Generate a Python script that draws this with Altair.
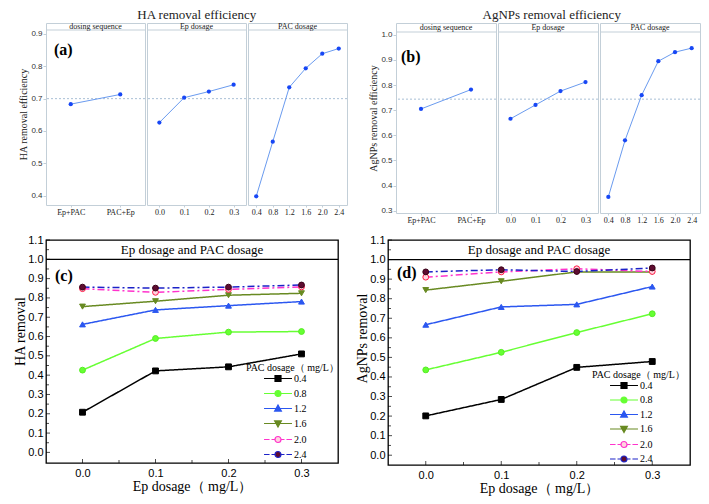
import altair as alt
import pandas as pd

SERIF = "Liberation Serif"
SANS = "Liberation Sans"

# ---------------- data: main-effects plots (top row) ----------------
seq_levels = ["Ep+PAC", "PAC+Ep"]
ep_levels = ["0.0", "0.1", "0.2", "0.3"]
pac_levels = ["0.4", "0.8", "1.2", "1.6", "2.0", "2.4"]

ha_seq = [0.683, 0.713]
ha_ep = [0.626, 0.703, 0.722, 0.743]
ha_pac = [0.398, 0.567, 0.735, 0.794, 0.839, 0.855]
ha_mean = [0.700]

ag_seq = [0.705, 0.782]
ag_ep = [0.666, 0.721, 0.776, 0.812]
ag_pac = [0.355, 0.580, 0.760, 0.895, 0.931, 0.947]
ag_mean = [0.744]

ha_ticks = [0.4, 0.5, 0.6, 0.7, 0.8, 0.9]
ag_ticks = [0.3, 0.4, 0.5, 0.6, 0.7, 0.8, 0.9, 1.0]

# ---------------- data: interaction plots (bottom row) ----------------
ep_dose = [0.0, 0.1, 0.2, 0.3]
pac_series = ["0.4", "0.8", "1.2", "1.6", "2.0", "2.4"]

ha_pac04 = [0.208, 0.422, 0.443, 0.510]
ha_pac08 = [0.426, 0.590, 0.623, 0.626]
ha_pac12 = [0.663, 0.738, 0.760, 0.781]
ha_pac16 = [0.755, 0.783, 0.814, 0.824]
ha_pac20 = [0.848, 0.829, 0.844, 0.857]
ha_pac24 = [0.856, 0.851, 0.856, 0.867]

ag_pac04 = [0.201, 0.285, 0.449, 0.479]
ag_pac08 = [0.436, 0.526, 0.627, 0.723]
ag_pac12 = [0.667, 0.758, 0.771, 0.862]
ag_pac16 = [0.844, 0.889, 0.937, 0.937]
ag_pac20 = [0.910, 0.937, 0.953, 0.939]
ag_pac24 = [0.937, 0.948, 0.939, 0.957]

y_major = [0.0, 0.1, 0.2, 0.3, 0.4, 0.5, 0.6, 0.7, 0.8, 0.9, 1.0, 1.1]
y_minor = [0.05, 0.15, 0.25, 0.35, 0.45, 0.55, 0.65, 0.75, 0.85, 0.95, 1.05]
x_major = [0.0, 0.1, 0.2, 0.3]
x_minor = [0.05, 0.15, 0.25]
strip_line = [1.0]

# ---------------- styles ----------------
FRAME = "#c3cfd8"
REF = "#a9bfd6"
LINE = "#6a9bef"
PT = "#1747f5"
TXT = "#222222"

LINE_COLORS = ["#000000", "#66ff33", "#2b57f0", "#688a22", "#ff33cc", "#1c22c8"]
FILLS = ["#000000", "#66ff33", "#2b57f0", "#688a22", "#ffd3de", "#5e0c30"]
STROKES = ["#000000", "#55ee22", "#2b57f0", "#688a22", "#ff1744", "#3a0018"]
DASHES = [[1, 0], [1, 0], [1, 0], [1, 0], [7, 3, 2, 3], [7, 3, 2, 3]]
SHAPES = ["square", "circle", "triangle-up", "triangle-down", "circle", "circle"]

# legend glyphs (line + marker), in symbol units
LA, LB, LM, LH = 1.62, 5.92, 3.77, 0.46


def f(v):
    return f"{v:.3f}"


SOLID = f"M{f(LA)},0H{f(LB)}"
DASHDOT = (f"M{f(LA)},0H{f(LA + 0.85)}M{f(LA + 1.15)},0H{f(LM - LH)}"
           f"M{f(LM + LH)},0H{f(LB - 1.15)}M{f(LB - 0.85)},0H{f(LB)}")
SQ = f"M{f(LM - LH)},{f(-LH)}H{f(LM + LH)}V{f(LH)}H{f(LM - LH)}Z"
CIR = (f"M{f(LM - LH)},0A{f(LH)},{f(LH)},0,1,0,{f(LM + LH)},0"
       f"A{f(LH)},{f(LH)},0,1,0,{f(LM - LH)},0Z")
TUP = f"M{f(LM)},-0.55L{f(LM + 0.52)},0.4H{f(LM - 0.52)}Z"
TDN = f"M{f(LM)},0.55L{f(LM + 0.52)},-0.4H{f(LM - 0.52)}Z"
LEG_PATHS = [SOLID + SQ, SOLID + CIR, SOLID + TUP, SOLID + TDN, DASHDOT + CIR, DASHDOT + CIR]


def effect_facet(levels, values, mean, fw, h, ydom, yticks, header, hdr,
                 ytitle=None, tag=None, tag_xy=None, spacer=None):
    df = pd.DataFrame({"lvl": levels, "val": values})
    mdf = pd.DataFrame({"val": mean})
    one = pd.DataFrame({"k": [0]})
    if ytitle is not None:
        yaxis = alt.Axis(title=ytitle, values=yticks, format=".1f", labelFont=SANS,
                         labelFontSize=8, labelColor="#333", tickSize=3, tickColor=FRAME,
                         domain=False, grid=False, labelPadding=1, titlePadding=2,
                         titleFont=SERIF, titleFontSize=10, titleFontWeight="normal",
                         titleColor=TXT, labelOverlap=False)
    else:
        yaxis = None
    yscale = alt.Scale(domain=ydom, nice=False, zero=False)
    x = alt.X("lvl:N", sort=levels, scale=alt.Scale(type="point", padding=0.5),
              axis=alt.Axis(title=None, labelAngle=0, labelFont=SERIF, labelFontSize=8,
                            labelColor=TXT, tickSize=2, tickColor=FRAME, domain=False,
                            labelPadding=1, grid=False))
    y = alt.Y("val:Q", scale=yscale, axis=yaxis)
    layers = [
        alt.Chart(mdf).mark_rule(color=REF, strokeDash=[2, 2], strokeWidth=1).encode(y=y),
        alt.Chart(one).mark_rule(color=FRAME, strokeWidth=1).encode(
            x=alt.value(0), x2=alt.value(fw), y=alt.value(hdr)),
        alt.Chart(one).mark_text(font=SERIF, fontSize=8, color=TXT, baseline="middle").encode(
            x=alt.value(fw / 2), y=alt.value(hdr / 2 + 0.5), text=alt.value(header)),
        alt.Chart(df).mark_line(color=LINE, strokeWidth=1).encode(x=x, y=y),
        alt.Chart(df).mark_circle(color=PT, size=18, opacity=1).encode(x=x, y=y),
    ]
    if tag is not None:
        layers.append(alt.Chart(one).mark_text(font=SERIF, fontSize=16, fontWeight="bold",
                                               color="black", align="left", baseline="middle").encode(
            x=alt.value(tag_xy[0]), y=alt.value(tag_xy[1]), text=alt.value(tag)))
    if spacer is not None:
        layers.append(alt.Chart(one).mark_rule(opacity=0).encode(
            x=alt.value(spacer), y=alt.value(0), y2=alt.value(1)))
    return alt.layer(*layers).properties(width=fw, height=h)


def removal_panel(series_vals, w, h, ydom, ytitle, title_y, tag, tag_xy, lx, ly, rowpad):
    rows = []
    for s, vals in zip(pac_series, series_vals):
        for e, v in zip(ep_dose, vals):
            rows.append({"Ep": e, "PAC": s, "val": v})
    df = pd.DataFrame(rows)
    one = pd.DataFrame({"k": [0]})
    xscale = alt.Scale(domain=[-0.05, 0.35], nice=False, zero=False)
    yscale = alt.Scale(domain=ydom, nice=False, zero=False)
    xaxis = alt.Axis(title="Ep dosage（ mg/L）", values=x_major, format=".1f", labelFont=SANS,
                     labelFontSize=11, labelColor="black", tickSize=0, domain=False, grid=False,
                     labelPadding=4, titleFont=SERIF, titleFontSize=14, titleFontWeight="normal",
                     titleColor="black", titlePadding=1)
    yaxis = alt.Axis(title=ytitle, values=y_major, format=".1f", labelFont=SANS,
                     labelFontSize=11, labelColor="black", tickSize=0, domain=False, grid=False,
                     labelPadding=3, titleFont=SERIF, titleFontSize=14, titleFontWeight="normal",
                     titleColor="black", titlePadding=0, titleY=title_y, labelOverlap=False)
    x = alt.X("Ep:Q", scale=xscale, axis=xaxis)
    y = alt.Y("val:Q", scale=yscale, axis=yaxis)
    xt = alt.X("t:Q", scale=xscale, axis=xaxis)
    yt = alt.Y("t:Q", scale=yscale, axis=yaxis)
    dom = pac_series
    legend = alt.Legend(title="PAC  dosage（ mg/L）", orient="none", legendX=lx, legendY=ly,
                        titleFont=SERIF, titleFontSize=10, titleFontWeight="normal",
                        titleColor="black", labelFont=SERIF, labelFontSize=10,
                        labelColor="black", symbolSize=169, labelOffset=33,
                        rowPadding=rowpad, padding=0, titlePadding=-2, symbolStrokeWidth=1.2)
    base = alt.Chart(df)
    lines = base.mark_line(strokeWidth=1.5).encode(
        x=x, y=y,
        color=alt.Color("PAC:N", scale=alt.Scale(domain=dom, range=LINE_COLORS), legend=None),
        strokeDash=alt.StrokeDash("PAC:N", scale=alt.Scale(domain=dom, range=DASHES), legend=None))
    pts = base.mark_point(filled=True, size=34, strokeWidth=1, opacity=1).encode(
        x=x, y=y,
        shape=alt.Shape("PAC:N", scale=alt.Scale(domain=dom, range=SHAPES), legend=None),
        fill=alt.Fill("PAC:N", scale=alt.Scale(domain=dom, range=FILLS), legend=None),
        stroke=alt.Stroke("PAC:N", scale=alt.Scale(domain=dom, range=STROKES), legend=None))
    # legend-only layer: same series pushed out of the clipped view
    lgd = base.transform_calculate(t="datum.val + 10").mark_point(
        filled=True, size=169, strokeWidth=1.2, opacity=1, clip=True).encode(
        x=x, y=yt,
        shape=alt.Shape("PAC:N", scale=alt.Scale(domain=dom, range=LEG_PATHS), legend=legend),
        fill=alt.Fill("PAC:N", scale=alt.Scale(domain=dom, range=FILLS), legend=legend),
        stroke=alt.Stroke("PAC:N", scale=alt.Scale(domain=dom, range=LINE_COLORS), legend=legend))
    strip_rule = alt.Chart(pd.DataFrame({"t": strip_line})).mark_rule(
        color="black", strokeWidth=1.2).encode(y=yt)
    strip_h = h * (ydom[1] - strip_line[0]) / (ydom[1] - ydom[0])
    strip_text = alt.Chart(one).mark_text(font=SERIF, fontSize=13, color="black",
                                          baseline="middle").encode(
        x=alt.value(w / 2), y=alt.value(strip_h / 2 + 0.5),
        text=alt.value("Ep dosage and PAC dosage"))
    tag_text = alt.Chart(one).mark_text(font=SERIF, fontSize=16, fontWeight="bold", color="black",
                                        align="left", baseline="middle").encode(
        x=alt.value(tag_xy[0]), y=alt.value(tag_xy[1]), text=alt.value(tag))
    xt_major = alt.Chart(pd.DataFrame({"t": x_major})).mark_tick(
        orient="vertical", size=4, thickness=1, color="black").encode(
        x=xt, y=alt.value(h - 2))
    xt_minor = alt.Chart(pd.DataFrame({"t": x_minor})).mark_tick(
        orient="vertical", size=3, thickness=1, color="black").encode(
        x=xt, y=alt.value(h - 1.5))
    yt_major = alt.Chart(pd.DataFrame({"t": y_major})).mark_tick(
        orient="horizontal", size=4, thickness=1, color="black").encode(
        y=yt, x=alt.value(2))
    yt_minor = alt.Chart(pd.DataFrame({"t": y_minor})).mark_tick(
        orient="horizontal", size=3, thickness=1, color="black").encode(
        y=yt, x=alt.value(1.5))
    return alt.layer(lines, pts, lgd, yt_major, yt_minor, xt_major, xt_minor,
                     strip_rule, strip_text, tag_text).resolve_scale(
        shape="independent", fill="independent", stroke="independent").properties(
        width=w, height=h, view=alt.ViewBackground(stroke="black", strokeWidth=1.3))


# ---------------- top row ----------------
FW_A, H_A, YD_A = 99, 182, [0.371, 0.934]
FW_B, H_B, YD_B = 100, 190, [0.291, 1.047]

fa1 = effect_facet(seq_levels, ha_seq, ha_mean, FW_A, H_A, YD_A, ha_ticks, "dosing sequence", 7,
                   ytitle="HA removal efficiency", tag="(a)", tag_xy=(8, 27), spacer=-37)
fa2 = effect_facet(ep_levels, ha_ep, ha_mean, FW_A, H_A, YD_A, ha_ticks, "Ep  dosage", 7)
fa3 = effect_facet(pac_levels, ha_pac, ha_mean, FW_A, H_A, YD_A, ha_ticks, "PAC   dosage", 7)

fb1 = effect_facet(seq_levels, ag_seq, ag_mean, FW_B, H_B, YD_B, ag_ticks, "dosing sequence", 9,
                   ytitle="AgNPs  removal efficiency", tag="(b)", tag_xy=(5, 34))
fb2 = effect_facet(ep_levels, ag_ep, ag_mean, FW_B, H_B, YD_B, ag_ticks, "Ep  dosage", 9)
fb3 = effect_facet(pac_levels, ag_pac, ag_mean, FW_B, H_B, YD_B, ag_ticks, "PAC   dosage", 9)


def panel_title(text, dx):
    return alt.TitleParams(text, font=SERIF, fontSize=13, fontWeight="normal", color=TXT,
                           anchor="middle", offset=1, dx=dx)


A = alt.hconcat(fa1, fa2, fa3, spacing=0).properties(
    title=panel_title("HA removal efficiency", 18.5))
B = alt.hconcat(fb1, fb2, fb3, spacing=0).properties(
    title=panel_title("AgNPs  removal efficiency", 17))

# ---------------- bottom row ----------------
C = removal_panel([ha_pac04, ha_pac08, ha_pac12, ha_pac16, ha_pac20, ha_pac24],
                  292, 223, [-0.055, 1.1], "HA removal", 91, "(c)", (9, 36), 200, 123, 2)
D = removal_panel([ag_pac04, ag_pac08, ag_pac12, ag_pac16, ag_pac20, ag_pac24],
                  302, 225, [-0.05, 1.1], "AgNPs removal", 98, "(d)", (9, 33), 204, 130, 1.5)

top = alt.hconcat(A, B, spacing=20)
bottom = alt.hconcat(C, D, spacing=12)

chart = alt.vconcat(top, bottom, spacing=8).properties(padding=0).configure(
    font=SERIF).configure_view(stroke=FRAME, strokeWidth=1)

chart.save("out.html", embed_options={"renderer": "svg", "actions": False})
